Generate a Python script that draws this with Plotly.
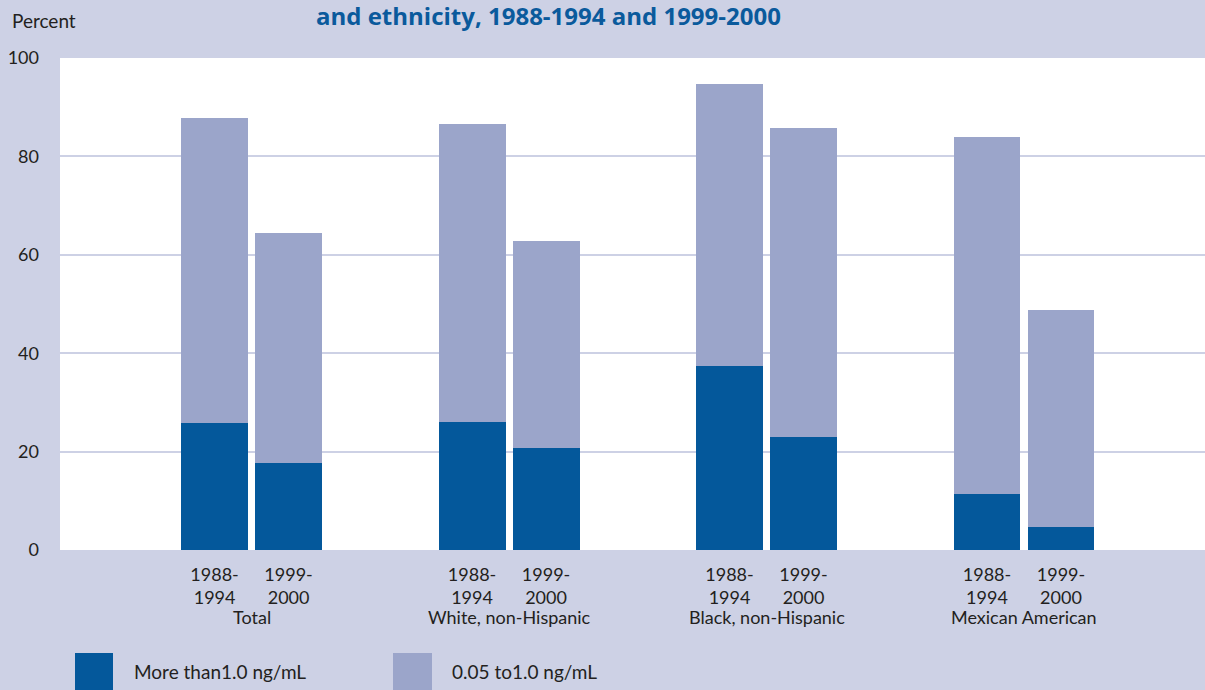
import plotly.graph_objects as go

groups = ["Total", "White, non-Hispanic", "Black, non-Hispanic", "Mexican American"]
periods = ["1988-<br>1994", "1999-<br>2000"]
# percent > 1.0 ng/mL, for each group: [1988-1994, 1999-2000]
high = [25.8, 17.6, 26.0, 20.7, 37.3, 22.9, 11.4, 4.7]
# percent 0.05 to 1.0 ng/mL
mid = [62.0, 46.9, 60.6, 42.2, 57.4, 62.9, 72.6, 44.0]
series_names = ["More than1.0 ng/mL", "0.05 to1.0 ng/mL"]
y_ticks = [0, 20, 40, 60, 80, 100]

BG = "#CDD1E5"
DARK = "#04589B"
LIGHT = "#9BA5CA"
TXT = "#231F20"
FONT = "Lato"

offset = 0.1437
xpos = []
xlabels = []
for gi in range(len(groups)):
    for pi, p in enumerate(periods):
        xpos.append(gi + (-offset if pi == 0 else offset))
        xlabels.append(p)

fig = go.Figure()
fig.add_trace(go.Bar(x=xpos, y=high, width=0.26, marker=dict(color=DARK, line=dict(width=0)),
                     name=series_names[0], showlegend=False))
fig.add_trace(go.Bar(x=xpos, y=mid, width=0.26, marker=dict(color=LIGHT, line=dict(width=0)),
                     name=series_names[1], showlegend=False))

fig.update_layout(
    barmode="stack",
    width=1205, height=690,
    paper_bgcolor=BG, plot_bgcolor="white",
    margin=dict(l=60, r=0, t=58, b=140),
    font=dict(family=FONT, size=18, color=TXT),
    xaxis=dict(range=[-0.744, 3.703], tickvals=xpos, ticktext=xlabels, showgrid=False,
               zeroline=False, showline=False, ticks="", ticklabelstandoff=12,
               tickfont=dict(size=18, color=TXT)),
    yaxis=dict(range=[0, 100], tickvals=y_ticks, showgrid=True, gridcolor=BG, gridwidth=2,
               zeroline=False, showline=False, ticks="", ticklabelstandoff=20,
               tickfont=dict(size=18, color=TXT)),
)

# group labels
for gi, g in enumerate(groups):
    fig.add_annotation(x=gi, y=(550 - 617) / 492, xref="x", yref="paper", text=g, showarrow=False,
                       font=dict(size=18, color=TXT), yanchor="middle")

# y-axis title
fig.add_annotation(x=(10 - 60) / 1145, y=(550 - 20) / 492, xref="paper", yref="paper",
                   text="Percent", showarrow=False, xanchor="left", yanchor="middle",
                   font=dict(size=19, color=TXT))

# title (visible line)
fig.add_annotation(x=(548 - 60) / 1145, y=(550 - 15) / 492, xref="paper", yref="paper",
                   text="<b>and ethnicity, 1988-1994 and 1999-2000</b>", showarrow=False,
                   xanchor="center", yanchor="middle", borderpad=0,
                   font=dict(family="Open Sans", size=24, color="#0A5A9C"))

# legend
leg = [(75, 113, 132, DARK, series_names[0]), (393, 432, 450, LIGHT, series_names[1])]
for x0, x1, xt, col, name in leg:
    fig.add_shape(type="rect", xref="paper", yref="paper",
                  x0=(x0 - 60) / 1145, x1=(x1 - 60) / 1145,
                  y0=(550 - 690) / 492, y1=(550 - 653) / 492,
                  fillcolor=col, line=dict(width=0))
    fig.add_annotation(x=(xt - 60) / 1145, y=(550 - 671) / 492, xref="paper", yref="paper",
                       text=name, showarrow=False, xanchor="left", yanchor="middle",
                       font=dict(size=19, color=TXT))

fig.write_html("out.html", config={"displayModeBar": False},
               post_script="document.body.style.margin='0';document.body.style.overflow='hidden';")
